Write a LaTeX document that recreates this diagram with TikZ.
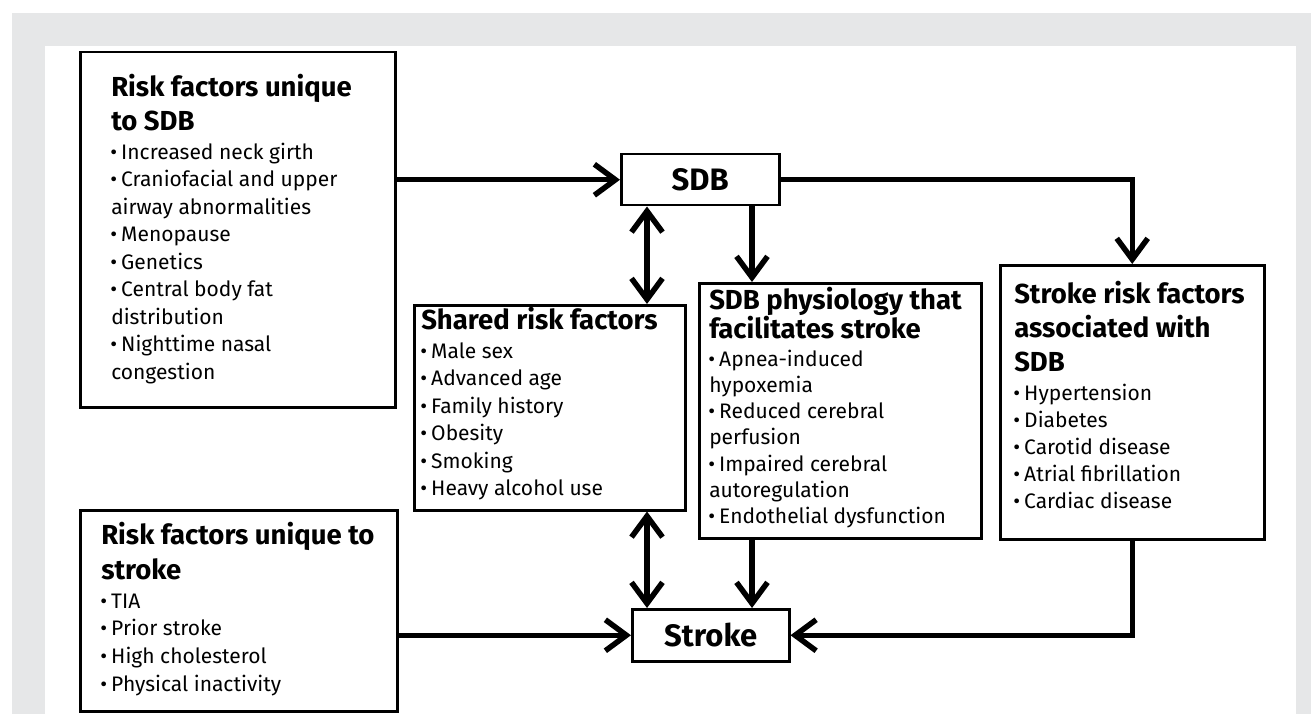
\documentclass[tikz,border=0pt]{standalone}
\usepackage{fontspec}
\setmainfont{Fira Sans}
\usetikzlibrary{arrows.meta}

\definecolor{framegray}{HTML}{E6E7E8}

% text inside the factor boxes
\newcommand{\headfont}{\fontsize{27.5}{34}\selectfont\bfseries}
\newcommand{\itemfont}{\fontsize{21}{27.5}\selectfont\mdseries}
\newcommand{\riskitem}[1]{\par\hangindent=10pt\hangafter=1\makebox[10pt][l]{\hspace{-1pt}\textbullet}#1}
\newcommand{\factorbox}[4]{\begin{minipage}[t][#2][t]{#1}\raggedright\leftskip=#3\relax #4\end{minipage}}

\tikzset{
  factors/.style={draw, line width=2.5pt, inner sep=0pt, anchor=north west},
  keybox/.style={draw, line width=2.5pt, inner sep=0pt, anchor=north west,
    font=\fontsize{31}{31}\selectfont\bfseries},
  flow/.style={line width=5.5pt, -{Straight Barb[length=21pt,width=31pt]}},
  dflow/.style={line width=5.5pt,
    {Straight Barb[length=21pt,width=31pt]}-{Straight Barb[length=21pt,width=31pt]}},
}

\begin{document}
\begin{tikzpicture}[x=1pt, y=-1pt]
  \useasboundingbox (0,0) rectangle (1311,714);
  \fill[framegray] (12,13) rectangle (1311,714);
  \fill[white] (45,46) rectangle (1296,714);

  % main boxes
  \node[keybox, minimum width=158pt, minimum height=51pt] (sdb) at (620,153) {SDB};
  \node[keybox, minimum width=157pt, minimum height=52pt] (stroke) at (631,608) {Stroke};

  % factor boxes
  \node[factors] (rsdb) at (79,51) {\factorbox{315pt}{355pt}{31pt}{%
    \headfont\rule{0pt}{44pt}Risk factors unique\\to SDB\par
    \itemfont\vspace{1.5pt}
    \riskitem{Increased neck girth}
    \riskitem{Craniofacial and upper\\airway abnormalities}
    \riskitem{Menopause}
    \riskitem{Genetics}
    \riskitem{Central body fat\\distribution}
    \riskitem{Nighttime nasal\\congestion}}};

  \node[factors] (shared) at (413,304) {\factorbox{271pt}{205pt}{7pt}{%
    \headfont\rule{0pt}{24pt}Shared risk factors\par
    \itemfont\vspace{1.5pt}
    \riskitem{Male sex}
    \riskitem{Advanced age}
    \riskitem{Family history}
    \riskitem{Obesity}
    \riskitem{Smoking}
    \riskitem{Heavy alcohol use}}};

  \node[factors] (physio) at (698,282) {\factorbox{282pt}{255pt}{10pt}{%
    \fontsize{27.5}{29}\selectfont\bfseries\rule{0pt}{26pt}SDB physiology that\\facilitates stroke\par
    \fontsize{21}{26.2}\selectfont\mdseries\vspace{1.8pt}
    \riskitem{Apnea-induced\\hypoxemia}
    \riskitem{Reduced cerebral\\perfusion}
    \riskitem{Impaired cerebral\\autoregulation}
    \riskitem{Endothelial dysfunction}}};

  \node[factors] (assoc) at (999,264) {\factorbox{264pt}{274pt}{14pt}{%
    \headfont\rule{0pt}{38pt}Stroke risk factors\\associated with\\SDB\par
    \itemfont\vspace{2.5pt}
    \fontsize{21}{27}\selectfont
    \riskitem{Hypertension}
    \riskitem{Diabetes}
    \riskitem{Carotid disease}
    \riskitem{Atrial fibrillation}
    \riskitem{Cardiac disease}}};

  \node[factors] (rstroke) at (79,509) {\factorbox{317pt}{201pt}{21pt}{%
    \fontsize{27.5}{35}\selectfont\bfseries\rule{0pt}{34pt}Risk factors unique to\\stroke\par
    \fontsize{21}{27.7}\selectfont\mdseries\vspace{1.3pt}
    \riskitem{TIA}
    \riskitem{Prior stroke}
    \riskitem{High cholesterol}
    \riskitem{Physical inactivity}}};

  % arrow columns
  \coordinate (c1) at (647,0);
  \coordinate (c2) at (752,0);

  % connectors
  \draw[flow] (sdb.west -| rsdb.east) -- (sdb.west);
  \draw[flow] (sdb.east) -- (sdb.east -| assoc.north) -- (assoc.north);
  \draw[flow] (c2 |- sdb.south) -- (c2 |- physio.north);
  \draw[dflow] (c1 |- sdb.south) -- (c1 |- shared.north);
  \draw[dflow] (c1 |- shared.south) -- (c1 |- stroke.north);
  \draw[flow] (c2 |- physio.south) -- (c2 |- stroke.north);
  \draw[flow] (stroke.west -| rstroke.east) -- (stroke.west);
  \draw[flow] (assoc.south) -- (assoc.south |- stroke.east) -- (stroke.east);
\end{tikzpicture}
\end{document}
